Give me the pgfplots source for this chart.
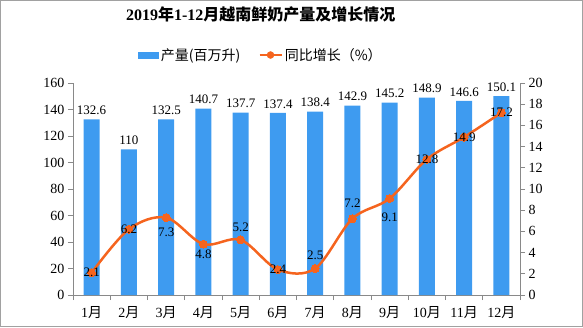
\documentclass[border=0pt]{standalone}
\usepackage{fontspec}
\setmainfont{Liberation Serif}
\newfontfamily\cjk{Noto Sans CJK SC}
\usepackage{pgfplots}
\pgfplotsset{compat=1.18}
\usepackage{pgfplotstable}
\definecolor{barblue}{RGB}{62,155,240}
\definecolor{lineorange}{RGB}{245,100,30}
\definecolor{axgray}{RGB}{137,137,137}

\pgfplotstableread{
x y
1 132.6
2 110
3 132.5
4 140.7
5 137.7
6 137.4
7 138.4
8 142.9
9 145.2
10 148.9
11 146.6
12 150.1
}\prodtable

\pgfplotstableread{
x y dy
1 2.1 0
2 6.2 0
3 7.3 -15
4 4.8 -10
5 5.2 13
6 2.4 0
7 2.5 13
8 7.2 15
9 9.1 -19
10 12.8 0
11 14.9 0
12 17.2 0
}\growthtable

\begin{document}
\begin{tikzpicture}
\begin{axis}[name=ax, at={(0,0)}, anchor=south west, scale only axis,
  width=447pt, height=212pt,
  xmin=0.5, xmax=12.5, ymin=0, ymax=160, ytick={0,20,...,160},
  axis y line*=left, axis x line*=bottom,
  axis line style={axgray, line width=0.8pt},
  tick align=outside, major tick length=5pt,
  tick style={axgray, line width=0.8pt},
  xtick={0.5,1.5,...,12.5}, x tick label as interval,
  xticklabels={1{\cjk 月},2{\cjk 月},3{\cjk 月},4{\cjk 月},5{\cjk 月},6{\cjk 月},7{\cjk 月},8{\cjk 月},9{\cjk 月},10{\cjk 月},11{\cjk 月},12{\cjk 月}},
  xticklabel style={font=\fontsize{14}{16}\selectfont, yshift=-3pt},
  yticklabel style={font=\fontsize{14}{16}\selectfont},
  /pgf/number format/assume math mode=true,
  title={\bfseries 2019{\cjk 年}1-12{\cjk 月越南鲜奶产量及增长情况}},
  title style={at={(0.42,1.297)}, anchor=center, font=\fontsize{16}{18}\selectfont},
  legend style={at={(0.42,1.132)}, anchor=center, draw=none, fill=none,
    legend columns=2, font=\fontsize{14}{16}\selectfont,
    /tikz/every even column/.append style={column sep=16pt}},
]
\addplot[ybar, bar width=16pt, fill=barblue, draw=none,
  nodes near coords,
  every node near coord/.append style={font=\fontsize{13}{15}\selectfont, black, yshift=1pt},
  legend image code/.code={\fill[barblue] (0pt,-3.5pt) rectangle (21pt,3.5pt);}]
  table[x=x,y=y] {\prodtable};
\addlegendentry{{\cjk 产量(百万升)}}
\addlegendimage{legend image code/.code={\draw[lineorange, line width=2.5pt] (0pt,0pt) -- (22pt,0pt); \fill[lineorange] (11pt,0pt) circle (3.5pt);}}
\addlegendentry{{\cjk 同比增长（\%）}}
\end{axis}
\begin{axis}[at={(0,0)}, anchor=south west, scale only axis,
  width=447pt, height=212pt,
  xmin=0.5, xmax=12.5, ymin=0, ymax=20, ytick={0,2,...,20},
  axis y line*=right, axis x line=none,
  axis line style={axgray, line width=0.8pt},
  tick align=outside, major tick length=5pt,
  tick style={axgray, line width=0.8pt},
  yticklabel style={font=\fontsize{14}{16}\selectfont},
  /pgf/number format/assume math mode=true,
]
\addplot[lineorange, line width=2.5pt, smooth, tension=0.55,
  mark=*, mark size=4pt, mark options={fill=lineorange, draw=lineorange, line width=0pt},
  nodes near coords,
  visualization depends on={\thisrow{dy}\as\dy},
  every node near coord/.append style={anchor=center, yshift=\dy, black, font=\fontsize{13}{15}\selectfont}]
  table[x=x,y=y] {\growthtable};
\end{axis}
\draw[axgray!80, line width=1pt] ([shift={(-72.5pt,-31.5pt)}]ax.south west) rectangle ([shift={(509.5pt,294.5pt)}]ax.south west);
\pgfresetboundingbox
\path ([shift={(-73pt,-32pt)}]ax.south west) rectangle ([shift={(510pt,295pt)}]ax.south west);
\end{tikzpicture}
\end{document}
